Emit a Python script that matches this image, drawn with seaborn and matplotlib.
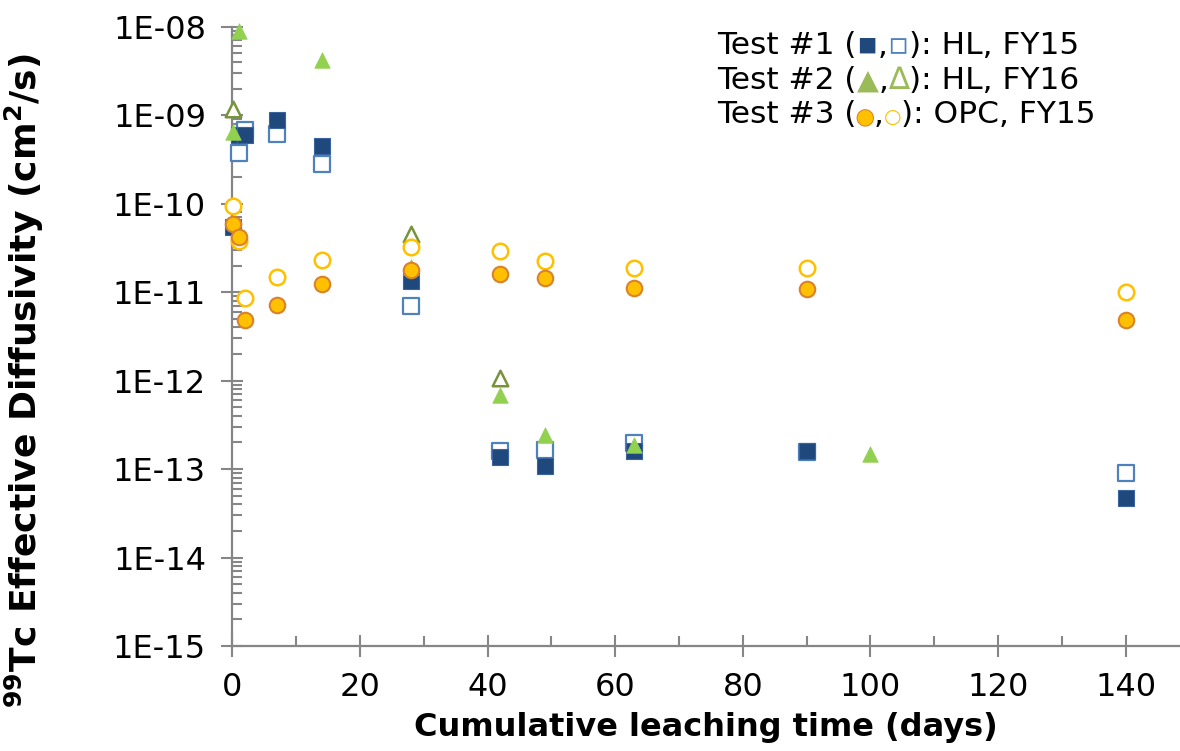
import numpy as np
import pandas as pd
import seaborn as sns
import matplotlib.pyplot as plt
from matplotlib.ticker import FuncFormatter, MultipleLocator, LogLocator, NullFormatter
from matplotlib.offsetbox import TextArea, HPacker, VPacker, AnchoredOffsetbox
import matplotlib.patheffects as pe

# cumulative leaching times (days)
days = [0.083, 1, 2, 7, 14, 28, 42, 49, 63, 90, 140]
days2 = [0.083, 1, 14, 28, 42, 49, 63, 100]

# Test #1 HL FY15 (filled / open squares)
test1_filled = [5.5e-11, 6.0e-10, 6.0e-10, 8.8e-10, 4.5e-10, 1.33e-11, 1.38e-13, 1.07e-13, 1.6e-13, 1.6e-13, 4.7e-14]
test1_open = [np.nan, 3.74e-10, 6.8e-10, 6.1e-10, 2.8e-10, 7.0e-12, 1.6e-13, 1.65e-13, 1.95e-13, 1.55e-13, 9.1e-14]

# Test #2 HL FY16 (filled / open triangles)
test2_filled = [6.5e-10, 9.0e-9, 4.2e-9, 1.9e-11, 6.9e-13, 2.4e-13, 1.85e-13, 1.48e-13]
test2_open = [1.17e-9, np.nan, np.nan, 4.6e-11, 1.07e-12, np.nan, np.nan, np.nan]

# Test #3 OPC FY15 (filled / open circles)
test3_filled = [5.9e-11, 4.2e-11, 4.9e-12, 7.1e-12, 1.23e-11, 1.8e-11, 1.62e-11, 1.45e-11, 1.12e-11, 1.08e-11, 4.9e-12]
test3_open = [9.3e-11, 3.8e-11, 8.5e-12, 1.5e-11, 2.3e-11, 3.2e-11, 2.95e-11, 2.25e-11, 1.87e-11, 1.87e-11, 1.0e-11]

sns.set_style("ticks")
plt.rcParams['font.family'] = ['DejaVu Sans']
plt.rcParams['text.color'] = 'black'
plt.rcParams['axes.labelcolor'] = 'black'
plt.rcParams['xtick.color'] = 'black'
plt.rcParams['ytick.color'] = 'black'

gray = '#868686'
fig = plt.figure(figsize=(11.8, 7.51), dpi=100)
ax = fig.add_axes([0.1969, 0.1398, 0.8031, 0.8246])

sz = 125
# order matters: open markers sit under filled ones
sns.scatterplot(x=days, y=test1_open, marker='s', s=sz, color='white', edgecolor='#4F81BD', linewidth=1.6, clip_on=False, zorder=3, ax=ax)
sns.scatterplot(x=days, y=test1_filled, marker='s', s=sz, color='#1F497D', edgecolor='#3A64A0', linewidth=0.8, clip_on=False, zorder=3, ax=ax)
sns.scatterplot(x=days2, y=test2_open, marker='^', s=sz, color='white', edgecolor='#77933C', linewidth=1.8, clip_on=False, zorder=3, ax=ax)
sns.scatterplot(x=days2, y=test2_filled, marker='^', s=sz, color='#92D050', edgecolor='#92D050', linewidth=0.5, clip_on=False, zorder=3, ax=ax)
sns.scatterplot(x=days, y=test3_open, marker='o', s=sz, color='white', edgecolor='#FFC000', linewidth=1.8, clip_on=False, zorder=3, ax=ax)
sns.scatterplot(x=days, y=test3_filled, marker='o', s=sz, color='#FFC000', edgecolor='#D9822B', linewidth=1.5, clip_on=False, zorder=3, ax=ax)

ax.set_yscale('log')
ax.set_ylim(1e-15, 1e-8)
ax.set_xlim(0, 148.5)

ax.xaxis.set_major_locator(MultipleLocator(20))
ax.xaxis.set_minor_locator(MultipleLocator(10))
ax.yaxis.set_major_locator(LogLocator(base=10, numticks=20))
ax.yaxis.set_minor_locator(LogLocator(base=10, subs=range(2, 10), numticks=100))
ax.yaxis.set_minor_formatter(NullFormatter())
ax.yaxis.set_major_formatter(FuncFormatter(lambda v, p: f"1E-{int(round(-np.log10(v))):02d}"))

for s in ['top', 'right']:
    ax.spines[s].set_visible(False)
for s in ['left', 'bottom']:
    ax.spines[s].set_color(gray)
    ax.spines[s].set_linewidth(1.6)

ax.tick_params(which='major', direction='inout', length=16, width=1.5, color=gray, labelsize=23, labelcolor='black', pad=11)
ax.tick_params(which='minor', direction='in', length=7, width=1.5, color=gray)

ax.set_xlabel("Cumulative leaching time (days)", fontsize=23, fontweight='bold', labelpad=6)
ax.set_ylabel(r"$\mathbf{^{99}}$Tc Effective Diffusivity (cm$\mathbf{^{2}}$/s)", fontsize=26, fontweight='bold')
ax.yaxis.set_label_coords(-0.1965, 0.428)

# text legend with coloured marker glyphs
fs = 22.5
def row(parts):
    kids = []
    for txt, col, size, eff in parts:
        props = dict(color=col, fontsize=size)
        if eff:
            props['path_effects'] = [pe.withStroke(linewidth=1.5, foreground='#D9822B')]
        kids.append(TextArea(txt, textprops=props))
    return HPacker(children=kids, sep=0, pad=0, align='baseline')

rows = [
    row([("Test #1 (", 'black', fs, False), ("\u25aa", '#1F497D', fs, False), (",", 'black', fs, False),
         ("\u25ab", '#4F81BD', fs, False), ("): HL, FY15", 'black', fs, False)]),
    row([("Test #2 (", 'black', fs, False), ("\u25b2", '#9BBB59', fs - 2, False), (",", 'black', fs, False),
         ("\u2206", '#9BBB59', fs, False), ("): HL, FY16", 'black', fs, False)]),
    row([("Test #3 (", 'black', fs, False), ("\u25cf", '#FFC000', fs - 8, True), (",", 'black', fs, False),
         ("\u25cb", '#FFC000', fs - 8, False), ("): OPC, FY15", 'black', fs, False)]),
]
box = VPacker(children=rows, sep=4, pad=0, align='left')
anc = AnchoredOffsetbox(loc='upper left', child=box, pad=0, borderpad=0, frameon=False,
                        bbox_to_anchor=(717 / 1180, 1 - 31 / 751), bbox_transform=fig.transFigure)
ax.add_artist(anc)

plt.savefig("out.png", dpi=100)
